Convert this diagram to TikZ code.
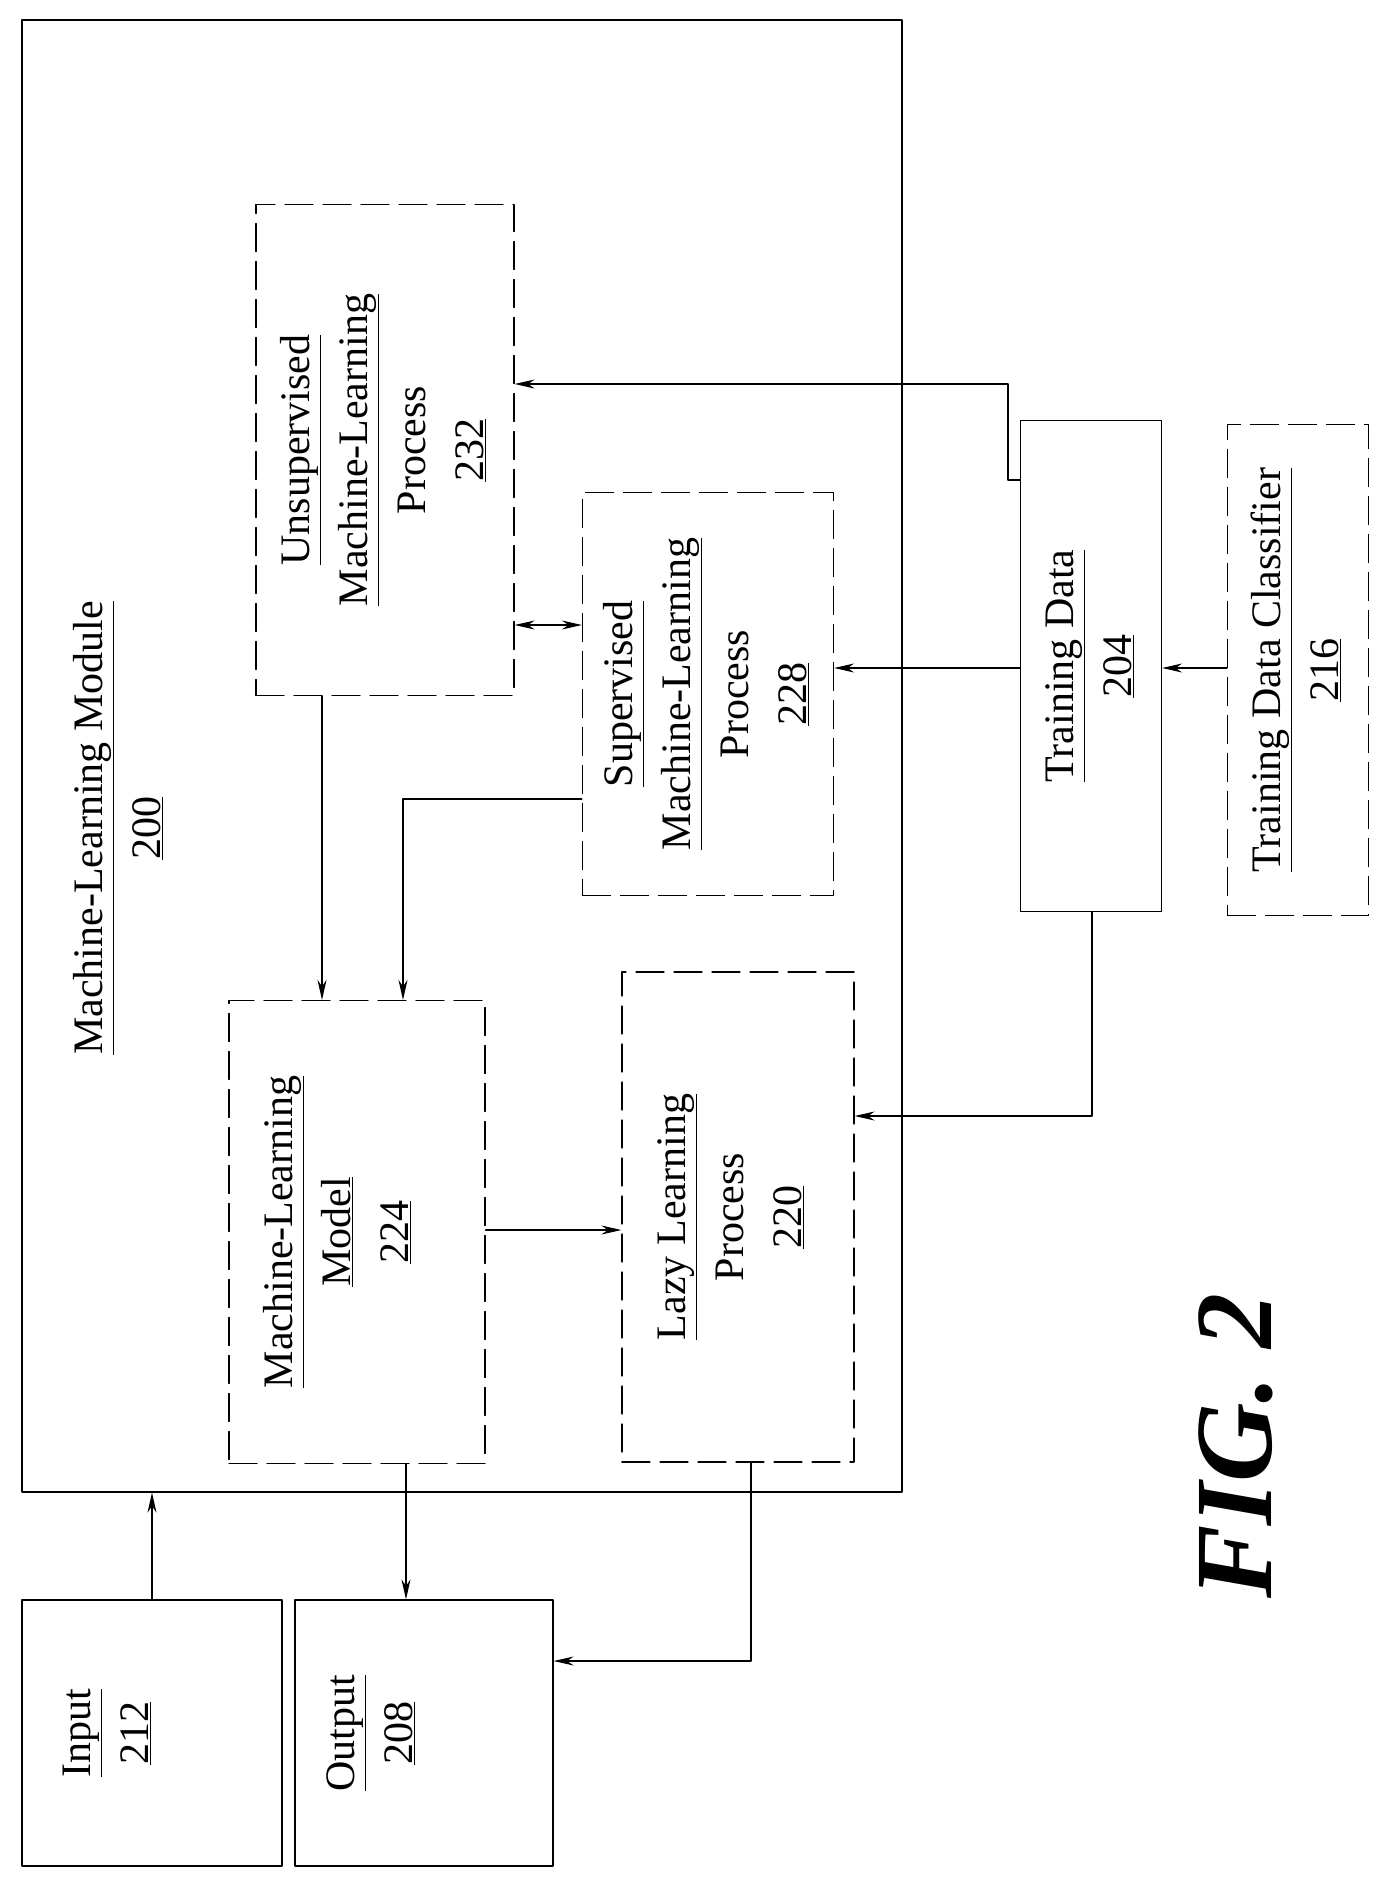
\documentclass[tikz,border=0pt]{standalone}
\usepackage{fontspec}
\setmainfont{Liberation Serif}
\usetikzlibrary{arrows.meta,positioning}
\tikzset{
  box/.style={draw,line width=1.2pt,inner sep=0pt},
  dbox/.style={box,dash pattern=on 28pt off 10pt},
  txt/.style={inner sep=0pt},
  flow/.style={line width=1.1pt,-{Stealth[length=20pt,width=9pt]}},
}
\newcommand{\lbl}[1]{\rotatebox{90}{\fontsize{42}{58}\selectfont\begin{tabular}{@{}c@{}}#1\end{tabular}}}
\begin{document}
\begin{tikzpicture}[x=1pt,y=-1pt,line cap=round,line join=round]
\useasboundingbox (0,0) rectangle (1394,1888);
% boxes
\node[box,minimum width=880,minimum height=1472] (mod) at (462,756) {};
\node[dbox,minimum width=258,minimum height=491] (uns) at (385,450) {};
\node[dbox,minimum width=251,minimum height=403] (sup) at (708,694) {};
\node[box,minimum width=141,minimum height=491] (td) at (1091,666) {};
\node[dbox,minimum width=141,minimum height=491] (tdc) at (1298,670) {};
\node[dbox,minimum width=256,minimum height=463] (mlm) at (357,1232) {};
\node[dbox,minimum width=232,minimum height=490] (lazy) at (738,1217) {};
\node[box,minimum width=260,minimum height=266] (in) at (152,1733) {};
\node[box,minimum width=258,minimum height=266] (out) at (424,1733) {};
% labels
\node[txt] at (120,828) {\lbl{\underline{Machine-Learning Module}\\\underline{200}}};
\node[txt] at (uns) {\lbl{\underline{Unsupervised}\\\underline{Machine-Learning}\\Process\\\underline{232}}};
\node[txt] at (sup) {\lbl{\underline{Supervised}\\\underline{Machine-Learning}\\Process\\\underline{228}}};
\node[txt] at (td) {\lbl{\underline{Training Data}\\\underline{204}}};
\node[txt] at (tdc) {\lbl{\underline{Training Data Classifier}\\\underline{216}}};
\node[txt] at ([xshift=-18pt]mlm.center) {\lbl{\underline{Machine-Learning}\\\underline{Model}\\\underline{224}}};
\node[txt] at ([xshift=-6pt]lazy.center) {\lbl{\underline{Lazy Learning}\\Process\\\underline{220}}};
\node[txt] at ([xshift=-44pt]in.center) {\lbl{\underline{Input}\\\underline{212}}};
\node[txt] at ([xshift=-52pt]out.center) {\lbl{\underline{Output}\\\underline{208}}};
\node[txt,rotate=90,font=\fontsize{110}{120}\selectfont\bfseries\itshape] at (1236,1446) {FIG. 2};
% connectors
\draw[flow] (td.west |- 0,480) -- (1008,480) -- (1008,384) -- (uns.east |- 0,384);
\draw[flow] (td.west |- 0,668) -- (sup.east |- 0,668);
\draw[flow] (tdc.west |- 0,668) -- (td.east |- 0,668);
\draw[flow] (td.south -| 1092,0) -- (1092,1116) -- (lazy.east |- 0,1116);
\draw[line width=1.1pt,{Stealth[length=20pt,width=9pt]}-{Stealth[length=20pt,width=9pt]}] (uns.east |- 0,625) -- (sup.west |- 0,625);
\draw[flow] (uns.south -| 322,0) -- (mlm.north -| 322,0);
\draw[flow] (sup.west |- 0,799) -- (403,799) -- (mlm.north -| 403,0);
\draw[flow] (mlm.east |- 0,1230) -- (lazy.west |- 0,1230);
\draw[flow] (mlm.south -| 406,0) -- (out.north -| 406,0);
\draw[flow] (in.north -| 152,0) -- (mod.south -| 152,0);
\draw[flow] (lazy.south -| 751,0) -- (751,1661) -- (out.east |- 0,1661);
\end{tikzpicture}
\end{document}
